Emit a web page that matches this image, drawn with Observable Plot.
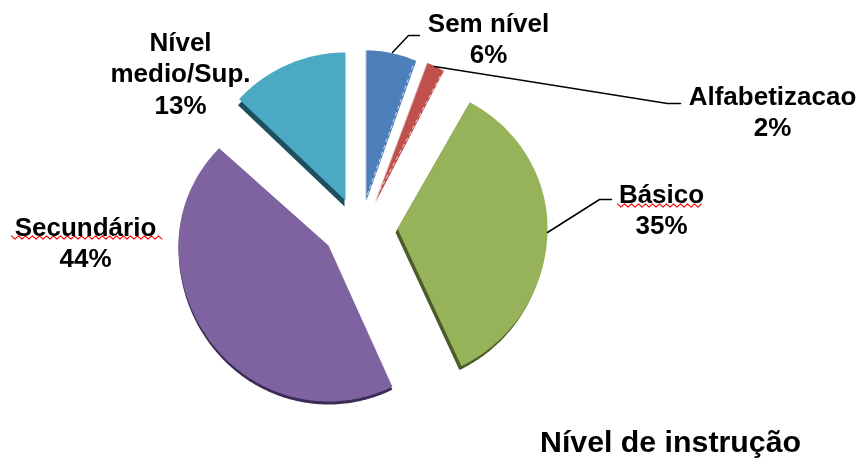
<!DOCTYPE html>
<html>
<head>
<meta charset="utf-8">
<script src="https://cdn.jsdelivr.net/npm/d3@7"></script>
<script src="https://cdn.jsdelivr.net/npm/@observablehq/plot@0.6"></script>
<style>html,body{margin:0;padding:0;background:#fff}</style>
</head>
<body>
<div id="chart"></div>
<script>
// Data, clockwise from twelve o'clock
const categories = ["Sem nível", "Alfabetizacao", "Básico", "Secundário", "Nível medio/Sup."];
const shares = [6, 2, 35, 44, 13];
const colors = ["#4d7fbb", "#bf504c", "#97b35a", "#7f62a0", "#4ba9c3"];
const depthColors = ["#b4c2d6", "#dcb4b2", "#4c5c28", "#3b2c55", "#1d4f5e"];

// Layout of the exploded pie (page coordinates)
const apexX = [366, 375, 397, 328, 345];
const apexY = [200, 202, 228, 245, 200];
const radiusX = [135, 142, 150, 150, 146];
const radiusTop = [150, 150, 144, 142, 148];
const radiusBottom = [150, 150, 152, 156, 148];
const depthX = [-1, -1, -2, 0, -1];
const depthY = [0, 0, 4, 3, 6];

const labelLines = [
  {text: "Sem nível\n6%", x: 488, y: 37},
  {text: "Nível\nmedio/Sup.\n13%", x: 180, y: 72},
  {text: "Alfabetizacao\n2%", x: 772, y: 110},
  {text: "Básico\n35%", x: 661, y: 208},
  {text: "Secundário\n44%", x: 85, y: 241}
];
const leaders = [
  {id: "a", pts: [[392, 52], [408, 35], [419, 35]]},
  {id: "b", pts: [[434, 66], [667, 103], [680, 103]]},
  {id: "c", pts: [[547, 232], [599, 199], [611, 199]]}
];
const squiggles = [
  {id: "s1", x0: 617, x1: 704, y: 205},
  {id: "s2", x0: 11, x1: 163, y: 237}
];

const deg = Math.PI / 180;
const total = d3.sum(shares);
const sliceRows = [];
const edgeRows = [];
let start = 0;
shares.forEach((v, i) => {
  const end = start + v / total * 360;
  const point = t => {
    const c = Math.cos(t * deg);
    return [apexX[i] + radiusX[i] * Math.sin(t * deg), apexY[i] - (c > 0 ? radiusTop[i] : radiusBottom[i]) * c];
  };
  const poly = [[apexX[i], apexY[i]]];
  const n = Math.max(4, Math.ceil(end - start));
  for (let k = 0; k <= n; k++) poly.push(point(start + (end - start) * k / n));
  poly.push([apexX[i], apexY[i]]);
  poly.forEach(([x, y]) => {
    sliceRows.push({key: categories[i] + " depth", layer: 0, x: x + depthX[i], y: y + depthY[i]});
  });
  poly.forEach(([x, y]) => {
    sliceRows.push({key: categories[i], layer: 1, x, y});
  });
  if (i < 2) {
    const [ex, ey] = point(end);
    edgeRows.push({key: categories[i], x: apexX[i] + 1, y: apexY[i] - 6});
    edgeRows.push({key: categories[i], x: ex - 3, y: ey + 4});
  }
  start = end;
});

const leaderRows = leaders.flatMap(l => l.pts.map(([x, y]) => ({id: l.id, x, y})));
const squiggleRows = squiggles.flatMap(s => {
  const rows = [];
  let k = 0;
  for (let x = s.x0; x <= s.x1; x += 3.5, k++) rows.push({id: s.id, x, y: s.y + (k % 2 ? 1.7 : -1.7)});
  return rows;
});

const font = "'Liberation Sans', Arial, sans-serif";
const chart = Plot.plot({
  width: 861,
  height: 462,
  margin: 0,
  x: {domain: [0, 861], range: [0, 861], axis: null},
  y: {domain: [0, 462], range: [0, 462], axis: null},
  color: {
    domain: [...categories, ...categories.map(c => c + " depth")],
    range: [...colors, ...depthColors]
  },
  style: {background: "#fff", filter: "blur(0.45px)", fontFamily: font},
  marks: [
    Plot.line(sliceRows.filter(d => d.layer === 0), {x: "x", y: "y", z: "key", fill: "key", stroke: "none"}),
    Plot.line(sliceRows.filter(d => d.layer === 1), {x: "x", y: "y", z: "key", fill: "key", stroke: "none"}),
    Plot.line(edgeRows, {x: "x", y: "y", z: "key", stroke: "#fff", strokeWidth: 1, strokeDasharray: "3,4", strokeOpacity: 0.75}),
    Plot.line(leaderRows, {x: "x", y: "y", z: "id", stroke: "#000", strokeWidth: 1.5}),
    Plot.line(squiggleRows, {x: "x", y: "y", z: "id", stroke: "#f00", strokeWidth: 1.1}),
    Plot.text(labelLines, {
      x: "x", y: "y", text: "text", fontSize: 26, fontWeight: "bold", fill: "#000",
      lineHeight: 1.2, textAnchor: "middle", lineAnchor: "middle", fontFamily: font,
      letterSpacing: "1.1px"
    }),
    Plot.text(["Nível de instrução"], {
      x: () => 670, y: () => 442, text: d => d, fontSize: 30.3, fontWeight: "bold", fill: "#000",
      textAnchor: "middle", lineAnchor: "middle", fontFamily: font
    })
  ]
});
document.getElementById("chart").appendChild(chart);
</script>
</body>
</html>
